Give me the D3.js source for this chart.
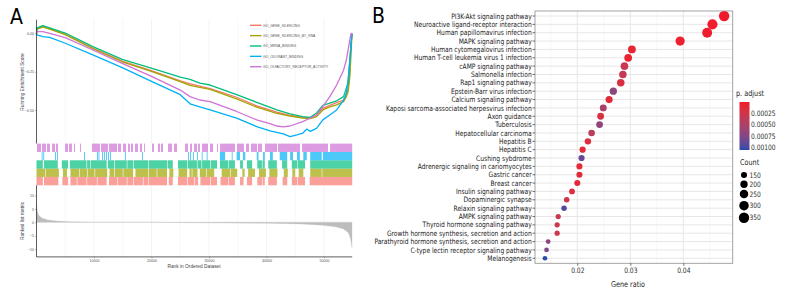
<!DOCTYPE html>
<html>
<head>
<meta charset="utf-8">
<script src="https://cdn.jsdelivr.net/npm/d3@7"></script>
<style>
  body { margin: 0; background: #fff; }
  svg text { font-family: "Liberation Sans", Arial, sans-serif; }
  svg text.cond { font-family: "Liberation Sans Narrow", "DejaVu Sans Condensed", "Liberation Sans", sans-serif; }
</style>
</head>
<body>
<svg id="chart" width="792" height="300"></svg>
<script>
// ---------------- panel A : GSEA running score ----------------
const geneSets = ['GO_GENE_SILENCING', 'GO_GENE_SILENCING_BY_RNA', 'GO_MRNA_BINDING',
                  'GO_ODORANT_BINDING', 'GO_OLFACTORY_RECEPTOR_ACTIVITY'];
const setColors = ['#F8766D', '#A3A500', '#00BF7D', '#00B0F6', '#CF72D6'];
const rankTicks = [10000, 20000, 30000, 40000, 50000];
const esTicks = [0, -0.25, -0.5];
const metricTicks = [10, 5, 0, -5, -10];
const rankMax = 54900;

// running enrichment score, [rank, score]
const esGeneSilencing = [[0,0],[100,0.03],[1100,0.045],[2300,0.03],[5000,-0.005],[9800,-0.095],[14900,-0.18],
  [20100,-0.245],[25000,-0.31],[26700,-0.33],[28400,-0.345],[30200,-0.36],[34800,-0.417],[38300,-0.474],
  [41800,-0.515],[44100,-0.535],[46300,-0.548],[47600,-0.55],[48700,-0.533],[49800,-0.49],[51000,-0.47],
  [52200,-0.452],[53400,-0.435],[53900,-0.40],[54200,-0.36],[54500,-0.217],[54800,-0.03],[54870,0]];
const esGeneSilencingByRna = [[0,0],[100,0.028],[1100,0.043],[2300,0.028],[5000,-0.008],[9800,-0.1],[14900,-0.185],
  [20100,-0.25],[25000,-0.315],[26700,-0.34],[28400,-0.352],[30200,-0.365],[34800,-0.428],[38300,-0.482],
  [41800,-0.522],[44100,-0.54],[46300,-0.554],[47600,-0.556],[48700,-0.544],[49800,-0.50],[51000,-0.48],
  [52200,-0.467],[53400,-0.446],[53900,-0.413],[54200,-0.38],[54500,-0.28],[54800,-0.05],[54870,-0.005]];
const esMrnaBinding = [[0,0],[100,0.036],[1100,0.051],[2300,0.036],[5000,0.003],[9800,-0.086],[14900,-0.17],
  [20100,-0.228],[25000,-0.286],[26700,-0.30],[28400,-0.325],[30200,-0.337],[34800,-0.40],[38300,-0.45],
  [41800,-0.50],[44100,-0.526],[46300,-0.544],[47600,-0.548],[48700,-0.52],[49800,-0.47],[51000,-0.456],
  [52200,-0.44],[53400,-0.413],[54200,-0.32],[54500,-0.17],[54800,-0.02],[54870,0]];
const esOdorantBinding = [[0,0],[100,-0.01],[1100,-0.02],[2300,-0.025],[5000,-0.064],[9800,-0.14],[14900,-0.223],
  [20100,-0.315],[25000,-0.40],[26700,-0.46],[28400,-0.48],[30200,-0.5],[34800,-0.554],[38300,-0.609],
  [40600,-0.637],[42900,-0.657],[44100,-0.674],[45300,-0.663],[46300,-0.652],[47000,-0.625],[47600,-0.64],
  [48700,-0.62],[49300,-0.59],[49800,-0.565],[51000,-0.533],[52200,-0.5],[53400,-0.435],[53900,-0.39],
  [54200,-0.30],[54500,-0.17],[54800,-0.02],[54870,0]];
const esOlfactory = [[0,0],[100,0.012],[1100,0.012],[2300,0],[5000,-0.027],[9800,-0.108],[14900,-0.195],
  [20100,-0.282],[25000,-0.37],[26700,-0.413],[28400,-0.435],[30200,-0.446],[34800,-0.51],[38300,-0.565],
  [40600,-0.59],[41800,-0.605],[42900,-0.611],[44100,-0.605],[46300,-0.576],[48700,-0.533],[49800,-0.478],
  [51000,-0.413],[52200,-0.337],[53400,-0.24],[53900,-0.17],[54500,-0.04],[54700,0],[54870,-0.01]];

// gene hits, [startRank, endRank] in thousands (single hits have start == end)
const hitsGeneSilencing = [[0,1.1],[1.3,3.8],[4.5,5.5],[5.9,7.0],[7.1,8.7],[8.8,10.5],[10.6,12.2],[12.6,14.0],[14.1,15.7],
  [15.8,16.8],[16.9,18.5],[18.6,19.4],[19.5,22.7],[23.0,23.7],[24.6,26.2],[26.3,27.4],[27.5,28.1],[28.5,30.2],[30.3,31.4],
  [32.0,33.3],[33.4,34.5],[35.4,36.0],[36.6,37.5],[38.4,39.2],[39.3,39.7],[40.3,41.8],[42.8,43.6],[44.4,45.3],[45.4,46.7],[47.5,54.9]];
const hitsGeneSilencingByRna = [[0,1.5],[1.6,3.9],[4.6,5.3],[5.9,7.4],[7.5,8.8],[8.9,10.1],[10.2,12.3],[12.7,13.5],[13.6,15.0],
  [15.1,16.8],[17.2,19.4],[19.5,20.9],[21.0,22.7],[23.1,23.8],[24.7,26.2],[26.6,27.0],[27.1,28.0],[28.4,29.5],[29.6,30.9],
  [32.2,33.7],[33.8,34.9],[35.8,36.2],[36.8,38.0],[38.7,39.9],[40.5,41.9],[43.0,43.7],[44.5,45.0],[45.6,46.4],[47.6,49.6],[49.7,54.9]];
const hitsMrnaBinding = [[0,1.1],[1.3,3.7],[4.4,5.5],[5.8,8.7],[8.8,9.3],[9.4,12.2],[12.4,13.5],[13.6,15.7],[15.8,16.8],
  [16.9,19.4],[19.5,22.7],[22.8,23.7],[24.6,26.2],[26.3,27.9],[28.0,28.7],[28.8,30.2],[30.3,31.4],[31.9,33.3],[33.4,34.5],
  [35.4,35.9],[36.6,37.5],[38.4,39.2],[39.3,39.7],[40.3,41.8],[42.7,43.6],[44.4,45.3],[45.4,46.7],[47.6,54.9]];
const hitsOdorantBinding = [[0.9,0.9],[1.18,1.18],[3.22,3.22],[3.57,3.57],[8.26,8.26],[10.52,10.52],[10.78,10.78],
  [11.39,11.39],[11.74,11.74],[12.09,12.09],[12.43,12.43],[12.78,12.78],[15.39,15.39],[18.35,18.35],[26.35,26.35],
  [26.7,26.7],[27.22,27.22],[27.91,27.91],[28.73,28.73],[29.6,29.6],[31.9,32.8],[33.95,33.95],[34.8,35.4],[35.9,36.3],
  [38.3,38.6],[39.4,39.7],[40.6,41.1],[42.3,43.6],[44.1,44.6],[45.3,45.8],[46.4,47.0],[47.6,49.6],[49.8,54.9]];
const hitsOlfactory = [[0.09,0.78],[0.96,1.65],[1.83,2.35],[2.7,3.22],[3.39,3.74],[4.96,5.48],[5.65,6.17],[6.52,6.7],
  [7.57,7.74],[9.65,11.04],[11.22,12.43],[12.61,14.0],[14.17,14.7],[15.04,15.57],[15.91,16.26],[16.43,16.78],
  [17.13,17.65],[17.98,18.35],[18.7,18.87],[20.09,20.43],[21.13,21.48],[21.65,22.0],[22.87,23.57],[23.91,24.43],
  [25.83,26.35],[26.7,27.04],[27.39,27.91],[28.09,28.43],[28.78,29.83],[30.17,30.7],[31.39,31.57],[31.91,34.52],
  [34.87,36.09],[36.43,36.96],[37.3,38.35],[38.52,39.22],[39.74,41.83],[42.0,45.83],[46.17,50.7],[51.04,54.9]];

// ranked list metric, [rank, value]
const rankedMetric = [[0,7],[150,4],[400,2.5],[1000,1.5],[2000,0.9],[3500,0.5],[6000,0.2],[10000,0.05],[20000,0],
  [28000,-0.2],[40000,-0.35],[46000,-0.6],[49800,-1.1],[52000,-1.7],[53400,-2.5],[54200,-3.8],[54500,-5.3],
  [54750,-7.5],[54870,-9.5]];

const esSeries = [esGeneSilencing, esGeneSilencingByRna, esMrnaBinding, esOdorantBinding, esOlfactory];
const hitSeries = [hitsGeneSilencing, hitsGeneSilencingByRna, hitsMrnaBinding, hitsOdorantBinding, hitsOlfactory];

// ---------------- panel B : KEGG dot plot ----------------
const pathways = ['PI3K-Akt signaling pathway', 'Neuroactive ligand-receptor interaction', 'Human papillomavirus infection',
  'MAPK signaling pathway', 'Human cytomegalovirus infection', 'Human T-cell leukemia virus 1 infection',
  'cAMP signaling pathway', 'Salmonella infection', 'Rap1 signaling pathway', 'Epstein-Barr virus infection',
  'Calcium signaling pathway', 'Kaposi sarcoma-associated herpesvirus infection', 'Axon guidance', 'Tuberculosis',
  'Hepatocellular carcinoma', 'Hepatitis B', 'Hepatitis C', 'Cushing sybdrome', 'Adrenergic signaling in cariomyocytes',
  'Gastric cancer', 'Breast cancer', 'Insulin signaling pathway', 'Dopaminergic synapse', 'Relaxin signaling pathway',
  'AMPK signaling pathway', 'Thyroid hormone sognaling pathway', 'Growth hormone synthesis, secretion and action',
  'Parathyroid hormone synthesis, secretion and action', 'C-type lectin receptor signaling pathway', 'Melanogenesis'];
const geneRatio = [0.0477, 0.0455, 0.0445, 0.0394, 0.0303, 0.0296, 0.0289, 0.0286, 0.0282, 0.0268,
  0.0260, 0.0249, 0.0244, 0.0242, 0.0227, 0.0220, 0.0210, 0.0208, 0.0204, 0.0204,
  0.0200, 0.0190, 0.0180, 0.0175, 0.0164, 0.0162, 0.0162, 0.0145, 0.0142, 0.0139];
const pAdjust = [0.000001, 0.00001, 0.00002, 0.00004, 0.00008, 0.00005, 0.0003, 0.00033, 0.00018, 0.00068,
  0.00012, 0.00052, 0.0002, 0.00065, 0.0004, 0.00015, 0.00012, 0.00088, 0.00012, 0.00014,
  0.0001, 0.00015, 0.00025, 0.00095, 0.0003, 0.0003, 0.00028, 0.00068, 0.00078, 0.00105];
const counts = [350, 334, 326, 289, 222, 217, 212, 209, 207, 197, 191, 182, 179, 177, 167,
  161, 154, 153, 150, 150, 147, 139, 132, 128, 120, 119, 119, 106, 104, 102];
const ratioTicks = [0.02, 0.03, 0.04];
const pTicks = [0.00025, 0.0005, 0.00075, 0.001];
const countTicks = [150, 200, 250, 300, 350];

const svg = d3.select('#chart');
svg.append('rect').attr('width', 792).attr('height', 300).attr('fill', '#fff');

drawGsea();
drawDotPlot();

function drawGsea() {
  let x = d3.scaleLinear().domain([0, rankMax]).range([36.5, 352.2]);
  let yEs = d3.scaleLinear().domain([-0.72, 0.09]).range([143.6, 19.7]);
  let yMetric = d3.scaleLinear().domain([-12.9, 13.8]).range([256.9, 185.3]);
  let yRug = d3.scaleBand().domain(geneSets.slice().reverse()).range([143.6, 185.3]);

  let g = svg.append('g').attr('class', 'gsea');

  g.append('text').attr('class', 'cond').attr('x', 10).attr('y', 24)
    .style('font-size', '21px').text('A');

  // vertical grid (major + minor) in top and bottom panels
  let grid = d3.range(5000, rankMax, 5000);
  [[19.7, 143.6], [185.3, 256.9]].forEach(function (r) {
    g.append('g').selectAll('line').data(grid).join('line')
      .attr('x1', d => x(d)).attr('x2', d => x(d))
      .attr('y1', r[0]).attr('y2', r[1])
      .attr('stroke', d => d % 10000 === 0 ? '#ebebeb' : '#f4f4f4')
      .attr('stroke-width', 0.6);
  });

  // running score lines
  let line = d3.line().x(d => x(d[0])).y(d => yEs(d[1]));
  g.append('g').selectAll('path').data(esSeries).join('path')
    .attr('d', line)
    .attr('fill', 'none')
    .attr('stroke', (d, i) => setColors[i])
    .attr('stroke-width', 1.3)
    .attr('stroke-linejoin', 'round');

  // top axis (left only)
  g.append('line').attr('x1', 36.5).attr('x2', 36.5).attr('y1', 19.7).attr('y2', 143.6)
    .attr('stroke', '#333').attr('stroke-width', 0.8);
  let esAxis = g.append('g').attr('transform', 'translate(36.5,0)')
    .call(d3.axisLeft(yEs).tickValues(esTicks).tickFormat(d3.format('.2f')).tickSize(1.5).tickPadding(1));
  esAxis.select('.domain').remove();
  esAxis.selectAll('text').style('font-size', '3.6px').attr('fill', '#555');
  esAxis.selectAll('line').attr('stroke', '#555').attr('stroke-width', 0.4);

  g.append('text').attr('transform', 'translate(23.5,82) rotate(-90)')
    .attr('text-anchor', 'middle').style('font-size', '4.8px').attr('fill', '#444')
    .text('Running Enrichment Score');

  // legend
  let leg = g.append('g').selectAll('g').data(geneSets).join('g')
    .attr('transform', (d, i) => 'translate(250,' + (25.3 + i * 10.35) + ')');
  leg.append('line').attr('x1', 0).attr('x2', 11.5)
    .attr('stroke', (d, i) => setColors[i]).attr('stroke-width', 1.4);
  leg.append('text').attr('x', 13).attr('y', 1.2)
    .style('font-size', '3.4px').attr('fill', '#555').text(d => d);

  // rug of gene hits
  hitSeries.forEach(function (hits, i) {
    g.append('g').selectAll('rect').data(hits).join('rect')
      .attr('x', d => x(d[0] * 1000))
      .attr('width', d => Math.max(0.9, x(d[1] * 1000) - x(d[0] * 1000)))
      .attr('y', yRug(geneSets[i]))
      .attr('height', yRug.bandwidth())
      .attr('fill', setColors[i])
      .attr('fill-opacity', 0.7);
  });

  // ranked list metric
  let area = d3.area().x(d => x(d[0])).y0(yMetric(0)).y1(d => yMetric(d[1]));
  g.append('path').datum(rankedMetric).attr('d', area)
    .attr('fill', '#bdbdbd').attr('stroke', '#bdbdbd').attr('stroke-width', 0.3);
  g.append('line').attr('x1', 36.5).attr('x2', 352.2)
    .attr('y1', yMetric(0)).attr('y2', yMetric(0))
    .attr('stroke', '#d0d0d0').attr('stroke-width', 0.5);

  let mAxis = g.append('g').attr('transform', 'translate(36.5,0)')
    .call(d3.axisLeft(yMetric).tickValues(metricTicks).tickSize(1.5).tickPadding(1));
  mAxis.select('.domain').remove();
  mAxis.selectAll('text').style('font-size', '3.6px').attr('fill', '#555');
  mAxis.selectAll('line').attr('stroke', '#555').attr('stroke-width', 0.4);

  let xAxis = g.append('g').attr('transform', 'translate(0,256.9)')
    .call(d3.axisBottom(x).tickValues(rankTicks).tickFormat(d3.format('d')).tickSize(1.5).tickPadding(1));
  xAxis.select('.domain').remove();
  xAxis.selectAll('text').style('font-size', '3.6px').attr('fill', '#555');
  xAxis.selectAll('line').attr('stroke', '#555').attr('stroke-width', 0.4);

  g.append('path').attr('d', 'M36.5,185.3V256.9H352.2')
    .attr('fill', 'none').attr('stroke', '#333').attr('stroke-width', 0.8);

  g.append('text').attr('transform', 'translate(23.5,221) rotate(-90)')
    .attr('text-anchor', 'middle').style('font-size', '4.8px').attr('fill', '#444')
    .text('Ranked list metric');
  g.append('text').attr('x', 194).attr('y', 268)
    .attr('text-anchor', 'middle').style('font-size', '4.8px').attr('fill', '#444')
    .text('Rank in Ordered Dataset');
}

function drawDotPlot() {
  let left = 535, right = 732.7, top = 11, bottom = 263.3;
  let x = d3.scaleLinear().domain([0.01202, 0.04932]).range([left, right]);
  let y = d3.scalePoint().domain(pathways).range([top, bottom]).padding(0.6);
  let color = d3.scaleLinear().domain([d3.min(pAdjust), d3.max(pAdjust)])
    .range(['#F21A2A', '#2B4BAA']).interpolate(d3.interpolateLab);
  let r = d3.scaleSqrt().domain([100, 350]).range([2.3, 5.2]);
  let fs = '7.4px';

  let g = svg.append('g').attr('class', 'dotplot');

  g.append('text').attr('class', 'cond').attr('x', 372).attr('y', 23)
    .style('font-size', '21px').text('B');

  // grid
  let minor = [0.015, 0.025, 0.035, 0.045];
  g.append('g').selectAll('line').data(minor).join('line')
    .attr('x1', d => x(d)).attr('x2', d => x(d)).attr('y1', top).attr('y2', bottom)
    .attr('stroke', '#f2f2f2').attr('stroke-width', 0.6);
  g.append('g').selectAll('line').data(ratioTicks).join('line')
    .attr('x1', d => x(d)).attr('x2', d => x(d)).attr('y1', top).attr('y2', bottom)
    .attr('stroke', '#e4e4e4').attr('stroke-width', 0.9);
  g.append('g').selectAll('line').data(pathways).join('line')
    .attr('x1', left).attr('x2', right).attr('y1', d => y(d)).attr('y2', d => y(d))
    .attr('stroke', '#e4e4e4').attr('stroke-width', 0.9);

  // dots
  let idx = d3.range(pathways.length);
  g.append('g').selectAll('circle').data(idx).join('circle')
    .attr('cx', i => x(geneRatio[i]))
    .attr('cy', i => y(pathways[i]))
    .attr('r', i => r(counts[i]))
    .attr('fill', i => color(pAdjust[i]));

  g.append('rect').attr('x', left).attr('y', top)
    .attr('width', right - left).attr('height', bottom - top)
    .attr('fill', 'none').attr('stroke', '#9a9a9a').attr('stroke-width', 0.9);

  // y labels with a uniform horizontal squeeze to match the condensed face
  let yAxis = g.append('g');
  yAxis.selectAll('line').data(pathways).join('line')
    .attr('x1', left - 2.5).attr('x2', left).attr('y1', d => y(d)).attr('y2', d => y(d))
    .attr('stroke', '#333').attr('stroke-width', 0.7);
  let labels = yAxis.selectAll('text').data(pathways).join('text')
    .attr('class', 'cond')
    .attr('text-anchor', 'end')
    .attr('dy', '0.35em')
    .style('font-size', fs)
    .attr('fill', '#1a1a1a')
    .text(d => d);
  let ref = labels.filter(d => d.startsWith('Kaposi')).node().getComputedTextLength();
  let sx = 146 / ref;
  labels.attr('transform', d => 'translate(531.7,' + y(d) + ') scale(' + sx + ',1)');

  let xAxis = g.append('g').attr('transform', 'translate(0,' + bottom + ')')
    .call(d3.axisBottom(x).tickValues(ratioTicks).tickFormat(d3.format('.2f')).tickSize(2.5).tickPadding(1.5));
  xAxis.select('.domain').remove();
  xAxis.selectAll('line').attr('stroke', '#333').attr('stroke-width', 0.7);
  xAxis.selectAll('text').attr('class', 'cond').style('font-size', fs).attr('fill', '#333')
    .attr('transform', 'scale(' + sx + ',1)');

  g.append('text').attr('class', 'cond').attr('x', 628).attr('y', 287)
    .attr('text-anchor', 'middle').style('font-size', '8px').attr('fill', '#1a1a1a')
    .attr('transform', 'translate(' + (628 * (1 - sx)) + ',0) scale(' + sx + ',1)')
    .text('Gene ratio');

  // colour legend
  let barTop = 102, barBottom = 150;
  let pScale = d3.scaleLinear().domain([d3.min(pAdjust), d3.max(pAdjust)]).range([barTop, barBottom]);
  let grad = svg.append('defs').append('linearGradient').attr('id', 'pgrad')
    .attr('x1', 0).attr('x2', 0).attr('y1', 0).attr('y2', 1);
  d3.range(0, 1.0001, 0.1).forEach(function (t) {
    grad.append('stop').attr('offset', t)
      .attr('stop-color', color(pScale.invert(barTop + t * (barBottom - barTop))));
  });
  let lg = g.append('g');
  lg.append('text').attr('class', 'cond').attr('x', 736).attr('y', 96.5)
    .style('font-size', '8px').attr('fill', '#1a1a1a')
    .attr('transform', 'translate(' + (736 * (1 - sx)) + ',0) scale(' + sx + ',1)')
    .text('p. adjust');
  lg.append('rect').attr('x', 739.5).attr('y', barTop).attr('width', 10)
    .attr('height', barBottom - barTop).attr('fill', 'url(#pgrad)');
  lg.selectAll('.ptick').data(pTicks).join('text').attr('class', 'cond')
    .attr('dy', '0.35em').style('font-size', fs).attr('fill', '#333')
    .attr('transform', d => 'translate(751,' + pScale(d) + ') scale(' + sx + ',1)')
    .text(d => d3.format('.5f')(d));

  lg.append('text').attr('class', 'cond').attr('x', 740).attr('y', 165.5)
    .style('font-size', '8px').attr('fill', '#1a1a1a')
    .attr('transform', 'translate(' + (740 * (1 - sx)) + ',0) scale(' + sx + ',1)')
    .text('Count');
  let cy = [175, 184.3, 194, 205.7, 217.7];
  let item = lg.selectAll('.cnt').data(countTicks).join('g')
    .attr('transform', (d, i) => 'translate(744,' + cy[i] + ')');
  item.append('circle').attr('r', d => r(d)).attr('fill', '#000');
  item.append('text').attr('class', 'cond').attr('dy', '0.35em')
    .style('font-size', fs).attr('fill', '#333')
    .attr('transform', 'translate(5.5,0) scale(' + sx + ',1)')
    .text(d => d);
}
</script>
</body>
</html>
